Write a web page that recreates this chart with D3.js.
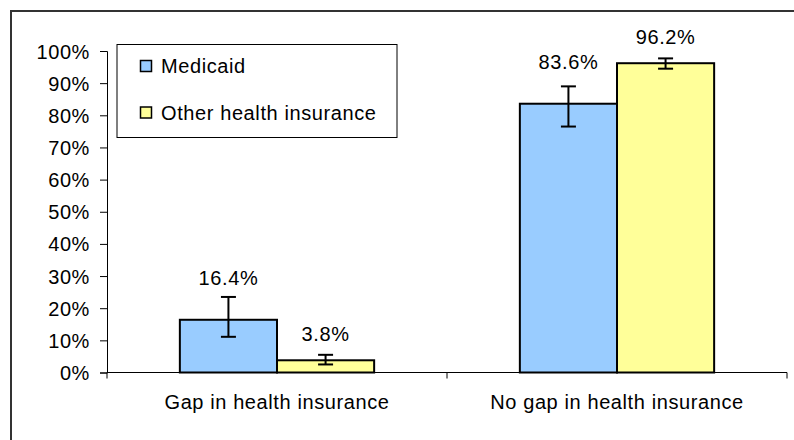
<!DOCTYPE html>
<html><head><meta charset="utf-8">
<script src="https://cdn.jsdelivr.net/npm/d3@7"></script>
<style>body{margin:0;background:#fff}svg{display:block}text{font-family:Arial,"Liberation Sans",sans-serif;fill:#000;letter-spacing:0.6px}</style>
</head><body>
<svg id="c" width="794" height="440"></svg>
<script>
const categories = ["Gap in health insurance", "No gap in health insurance"];
const seriesNames = ["Medicaid", "Other health insurance"];
const seriesColors = ["#99ccff", "#ffff99"];
const medicaid = [16.4, 83.6];
const other = [3.8, 96.2];
const medicaidLow = [11.1, 76.5];
const medicaidHigh = [23.5, 89.0];
const otherLow = [2.5, 94.5];
const otherHigh = [5.5, 97.7];
const yTicks = [0,10,20,30,40,50,60,70,80,90,100];

const labelOffsets = [34.5, 19];
const series = [
  {name: seriesNames[0], values: medicaid, low: medicaidLow, high: medicaidHigh, color: seriesColors[0], off: labelOffsets[0]},
  {name: seriesNames[1], values: other, low: otherLow, high: otherHigh, color: seriesColors[1], off: labelOffsets[1]}
];

const svg = d3.select("#c");
const fs = 20;
// outer frame (clipped by viewport on right/bottom)
svg.append("rect").attr("x",11).attr("y",11).attr("width",800).attr("height",440)
  .attr("fill","none").attr("stroke","#333").attr("stroke-width",2);

const x0 = 107, x1 = 787, yTop = 51, yBot = 372.5;
const y = d3.scaleLinear().domain([0,100]).range([yBot, yTop]);
const xBand = d3.scaleBand().domain(categories).range([x0, x1]).paddingInner(0).paddingOuter(0);
const bw = xBand.bandwidth() / (2 + 1.5);
const xSub = d3.scaleBand().domain(seriesNames).range([0, 2*bw]);

// y axis
const yAxis = d3.axisLeft(y).tickValues(yTicks).tickFormat(d => d + "%").tickSize(7).tickPadding(10);
const gy = svg.append("g").attr("transform",`translate(${x0},0)`).call(yAxis);
gy.select(".domain").attr("stroke","#000").attr("stroke-width",1);
gy.selectAll(".tick line").attr("stroke","#000");
gy.selectAll(".tick text").style("font-size",fs+"px").attr("dy","0.35em");

// x axis
const xAxis = d3.axisBottom(xBand).tickSize(0).tickPadding(22);
const gx = svg.append("g").attr("transform",`translate(0,${yBot})`).call(xAxis);
gx.select(".domain").remove();
gx.append("line").attr("x1",x0).attr("x2",x1).attr("stroke","#000");
gx.selectAll(".tick text").style("font-size",fs+"px").attr("dy","0.71em");
const bounds = [x0, ...categories.map(c => xBand(c) + xBand.bandwidth())];
gx.selectAll("line.sep").data(bounds).enter().append("line").attr("class","sep")
  .attr("x1",d=>d).attr("x2",d=>d).attr("y1",0).attr("y2",6).attr("stroke","#000");

// bars
series.forEach((s) => {
  const g = svg.append("g");
  categories.forEach((c, i) => {
    const bx = xBand(c) + (xBand.bandwidth() - 2*bw)/2 + xSub(s.name);
    g.append("rect").attr("x",bx).attr("y",y(s.values[i])).attr("width",bw)
      .attr("height",y(0)-y(s.values[i])).attr("fill",s.color).attr("stroke","#000").attr("stroke-width",2);
  });
});
// error bars + labels
series.forEach((s) => {
  categories.forEach((c, i) => {
    const cx = xBand(c) + (xBand.bandwidth() - 2*bw)/2 + xSub(s.name) + bw/2;
    const g = svg.append("g").attr("stroke","#000").attr("stroke-width",2);
    g.append("line").attr("x1",cx).attr("x2",cx).attr("y1",y(s.low[i])).attr("y2",y(s.high[i]));
    g.append("line").attr("x1",cx-7.5).attr("x2",cx+7.5).attr("y1",y(s.low[i])).attr("y2",y(s.low[i]));
    g.append("line").attr("x1",cx-7.5).attr("x2",cx+7.5).attr("y1",y(s.high[i])).attr("y2",y(s.high[i]));
    svg.append("text").attr("x",cx).attr("y",y(s.values[i]) - s.off).attr("text-anchor","middle")
      .style("font-size",fs+"px").text(s.values[i].toFixed(1) + "%");
  });
});

// legend
const lg = svg.append("g");
lg.append("rect").attr("x",117).attr("y",44.5).attr("width",280).attr("height",93)
  .attr("fill","#fff").attr("stroke","#000").attr("stroke-width",1);
series.forEach((s, i) => {
  const ly = 60.5 + i*46.5;
  lg.append("rect").attr("x",140.5).attr("y",ly).attr("width",11).attr("height",11)
    .attr("fill",s.color).attr("stroke","#000").attr("stroke-width",1.5);
  lg.append("text").attr("x",161).attr("y",ly+12.5).style("font-size",fs+"px").text(s.name);
});
</script>
</body></html>
